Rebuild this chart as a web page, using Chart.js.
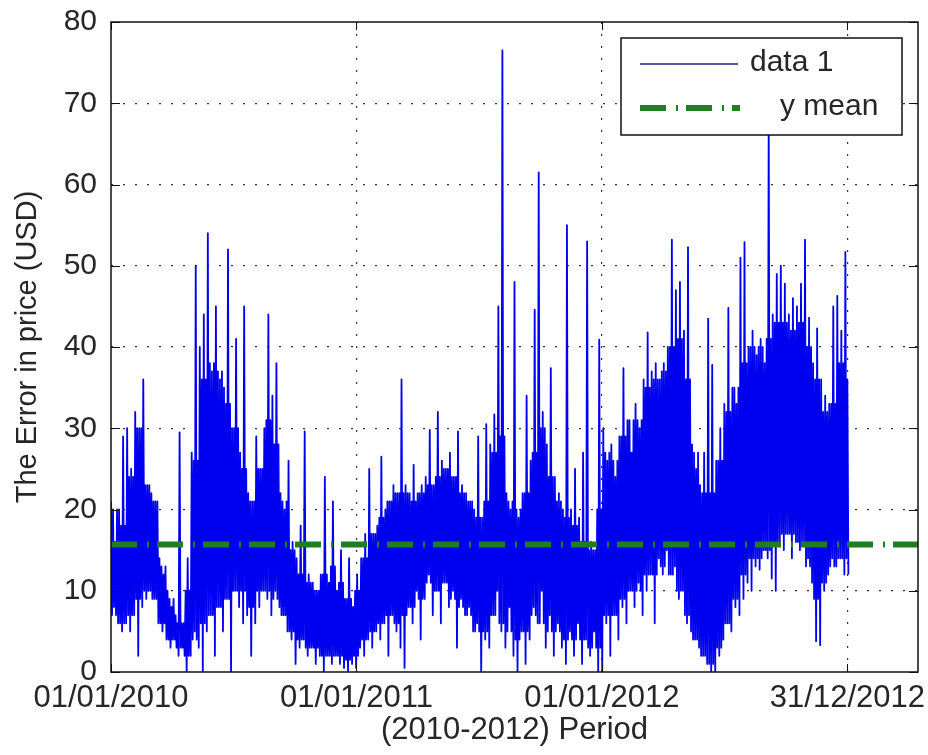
<!DOCTYPE html>
<html>
<head>
<meta charset="utf-8">
<title>Error in price 2010-2012</title>
<script src="https://cdn.jsdelivr.net/npm/chart.js@4.4.0/dist/chart.umd.min.js"></script>
<style>
    html, body { margin: 0; padding: 0; background: #ffffff; }
    #wrap { width: 928px; height: 755px; position: relative; }
</style>
</head>
<body>
<div id="wrap"><canvas id="errorChart"></canvas></div>
<script>
// x axis: days counted from 01/01/2010
const tickDays = [0, 365, 730, 1095];
const tickLabels = ['01/01/2010', '01/01/2011', '01/01/2012', '31/12/2012'];
const yTicks = [0, 10, 20, 30, 40, 50, 60, 70, 80];

// error values: peak and dip of every 6-day block
const blockHigh = [
    21, 16, 20, 29, 30, 25, 32, 30, 36, 23,
    22, 21, 14, 12, 10, 8, 7, 29.5, 6, 14,
    27, 50, 40, 44, 54, 37, 45, 36, 35, 52,
    30, 41, 27, 45, 22, 21, 29, 25, 30, 44,
    34, 38, 22, 20, 26, 16, 14, 18, 29.6, 12,
    11, 10, 12, 24, 11, 21, 10, 15, 9, 14,
    8, 12, 14, 17, 25, 17, 18, 26.5, 20, 21,
    23, 22, 36, 23, 22, 25.5, 22, 23, 24, 29.8,
    23, 32, 26, 25, 27, 24, 29.6, 23, 22, 21,
    20, 29, 19, 30.5, 28, 31.7, 45, 76.5, 22, 20,
    48, 19, 22, 34, 26, 44.6, 61.5, 32, 28, 37.4,
    24, 22, 20, 55, 20, 25, 19, 27, 53, 16,
    15, 40.9, 30, 26, 28, 24, 29, 37.4, 31, 27,
    33, 30, 36, 41.8, 37, 38, 36, 38, 40, 53.2,
    47, 48, 42, 52.3, 28, 25, 23, 27, 43.5, 37.8,
    26, 30, 33, 44.8, 35, 33, 51, 52.9, 40, 42,
    39, 41, 38, 68, 44, 49, 50, 47.8, 44, 46,
    45, 47.8, 53.2, 43.6, 38, 42.3, 36, 34, 33, 45,
    46.3, 42, 51.7
];
const blockLow = [
    8, 6, 5, 6, 5, 7, 2, 8, 9, 10,
    9, 6, 5, 4, 3, 4, 2, 3, 0, 2,
    5, 3, 0, 5, 7, 2, 8, 5, 9, 0,
    10, 8, 6, 7, 2, 6, 8, 10, 9, 7,
    10, 8, 7, 5, 4, 1, 3, 4, 2, 3,
    1, 2, 0, 2, 1, 2, 1, 0.5, 0, 1,
    0.5, 3, 2, 4, 3, 5, 4, 6, 2, 7,
    5, 3, 0.5, 8, 6, 10, 4, 9, 12, 7,
    10, 6, 11, 8, 10, 3, 9, 7, 8, 5,
    6, 0, 4, 3, 7, 10, 5, 3, 8, 2,
    0, 5, 1, 4, 8, 6, 10, 3, 7, 2,
    6, 3, 1, 5, 2, 6, 1, 4, 2, 5,
    0, 0, 6, 2, 7, 4, 8, 6, 10, 8,
    11, 7, 10, 12, 6, 14, 12, 15, 12, 13,
    9, 10, 6, 5, 4, 3, 2, 1, 0, 0,
    2, 4, 6, 5, 8, 7, 9, 11, 10, 13,
    12.6, 15, 14, 11.5, 10, 16, 15, 17, 14, 16,
    15, 16, 14, 11, 3.8, 3.3, 10, 12, 14, 13,
    14, 12, 12
];
// the dense core of the band, one pair per 12 days (2 blocks)
const coreTop = [
    20, 18, 24, 30, 23, 21, 13, 9, 6, 10,
    26, 36, 38, 37, 33, 30, 25, 21, 25, 31,
    28, 21, 15, 12, 11, 10, 12, 13, 11, 9,
    10, 14, 17, 19, 21, 22, 22, 21, 22, 23,
    24, 25, 24, 22, 21, 19, 21, 27, 29, 21,
    20, 22, 27, 30, 24, 21, 19, 18, 16, 15,
    20, 27, 26, 29, 31, 31, 35, 36, 37, 40,
    41, 36, 27, 22, 22, 26, 32, 35, 38, 40,
    40, 41, 43, 43, 42, 43, 40, 36, 32, 33,
    38, 36
];
const coreBottom = [
    7, 6, 7, 9, 10, 9, 6, 4, 3, 2,
    4, 6, 7, 8, 9, 10, 10, 8, 10, 10,
    9, 7, 5, 4, 3, 3, 2, 2, 2, 1.5,
    2, 4, 5, 6, 7, 6, 7, 8, 9, 11,
    10, 11, 9, 8, 7, 5, 5, 7, 6, 5,
    4, 5, 7, 6, 5, 5, 4, 4, 4, 3,
    3, 7, 7, 9, 10, 10, 12, 12, 13, 12,
    10, 7, 4, 2, 1, 3, 6, 9, 12, 14,
    14, 15, 16, 17, 17, 16, 13, 9, 11, 13,
    14, 14
];
const blockDays = 6;
const blocksPerCore = 2;

// mean line
const yMean = 15.7;
const meanSpan = [0, 1200];

const legendLabels = ['data 1', 'y mean'];

const BLUE = '#0000f0';
const GREEN = '#1d7f22';
const TEXT = '#262626';
const FONT = "'Liberation Sans', Arial, sans-serif";
const meanDash = [26, 10, 2, 8];

Chart.defaults.font.family = FONT;
Chart.defaults.font.size = 30;
Chart.defaults.color = TEXT;

// points of the error line: peak, core low, core high, dip in every block
function buildErrorPoints() {
    const pts = [];
    const q = blockDays / 4;
    blockHigh.forEach((h, k) => {
        const j = Math.floor(k / blocksPerCore);
        const d = k * blockDays;
        pts.push({ x: d, y: h });
        pts.push({ x: d + q, y: coreBottom[j] });
        pts.push({ x: d + 2 * q, y: coreTop[j] });
        pts.push({ x: d + 3 * q, y: blockLow[k] });
    });
    return pts;
}

// box round the plot, inward ticks and the legend
const matlabFrame = {
    id: 'matlabFrame',
    afterDatasetsDraw(chart) {
        const { ctx, chartArea: a, scales } = chart;
        ctx.save();

        // tick marks pointing inside
        ctx.strokeStyle = '#111';
        ctx.lineWidth = 1;
        ctx.beginPath();
        tickDays.forEach(d => {
            const px = Math.round(scales.x.getPixelForValue(d)) + 0.5;
            ctx.moveTo(px, a.bottom); ctx.lineTo(px, a.bottom - 8);
            ctx.moveTo(px, a.top); ctx.lineTo(px, a.top + 8);
        });
        yTicks.forEach(v => {
            const py = Math.round(scales.y.getPixelForValue(v)) + 0.5;
            ctx.moveTo(a.left, py); ctx.lineTo(a.left + 9, py);
            ctx.moveTo(a.right, py); ctx.lineTo(a.right - 9, py);
        });
        ctx.stroke();

        // plot box
        ctx.lineWidth = 1.5;
        ctx.strokeRect(a.left, a.top, a.right - a.left, a.bottom - a.top);

        // legend box
        const bx = a.right - 297, by = a.top + 16, bw = 281, bh = 97;
        ctx.fillStyle = '#fff';
        ctx.fillRect(bx, by, bw, bh);
        ctx.lineWidth = 1.5;
        ctx.strokeStyle = '#111';
        ctx.strokeRect(bx, by, bw, bh);

        // data 1 sample
        ctx.beginPath();
        ctx.strokeStyle = '#1c1c8a';
        ctx.lineWidth = 1.5;
        ctx.moveTo(bx + 19, by + 26); ctx.lineTo(bx + 117, by + 26);
        ctx.stroke();

        // y mean sample
        ctx.beginPath();
        ctx.strokeStyle = GREEN;
        ctx.lineWidth = 6;
        ctx.setLineDash(meanDash);
        ctx.moveTo(bx + 19, by + 70); ctx.lineTo(bx + 119, by + 70);
        ctx.stroke();
        ctx.setLineDash([]);

        ctx.fillStyle = TEXT;
        ctx.font = '30px ' + FONT;
        ctx.textBaseline = 'middle';
        ctx.textAlign = 'left';
        ctx.fillText(legendLabels[0], bx + 129, by + 25);
        ctx.fillText(legendLabels[1], bx + 159, by + 69);

        ctx.restore();
    }
};

function hideEdge(edges) {
    return ctx => edges.includes(ctx.tick.value) ? 'rgba(0,0,0,0)' : '#333';
}

// Chart banana
function initChart() {
    const canvas = document.getElementById('errorChart');
    new Chart(canvas, {
        type: 'line',
        data: {
            datasets: [{
                label: legendLabels[0],
                data: buildErrorPoints(),
                borderColor: BLUE,
                borderWidth: 1.8,
                borderJoinStyle: 'round',
                pointRadius: 0,
                tension: 0,
                order: 2
            }, {
                label: legendLabels[1],
                data: meanSpan.map(d => ({ x: d, y: yMean })),
                borderColor: GREEN,
                borderWidth: 6,
                borderDash: meanDash,
                borderCapStyle: 'butt',
                pointRadius: 0,
                order: 1
            }]
        },
        options: {
            responsive: true,
            maintainAspectRatio: false,
            animation: false,
            layout: { padding: { top: 22, right: 10, bottom: 0, left: 0 } },
            plugins: {
                legend: { display: false },
                tooltip: { enabled: false }
            },
            scales: {
                x: {
                    type: 'linear',
                    min: meanSpan[0],
                    max: meanSpan[1],
                    afterBuildTicks: s => { s.ticks = tickDays.map(v => ({ value: v })); },
                    afterFit: s => { s.height = 83; s.paddingLeft = 0; s.paddingRight = 0; },
                    ticks: {
                        autoSkip: false,
                        maxRotation: 0,
                        padding: 8,
                        font: { size: 31 },
                        callback: v => tickLabels[tickDays.indexOf(v)]
                    },
                    grid: { color: hideEdge([0]), lineWidth: 1.2, drawTicks: false },
                    border: { display: false, dash: [2, 10] },
                    title: {
                        display: true,
                        text: '(2010-2012) Period',
                        font: { size: 31 },
                        padding: { top: 0, bottom: 6 }
                    }
                },
                y: {
                    min: 0,
                    max: 80,
                    afterBuildTicks: s => { s.ticks = yTicks.map(v => ({ value: v })); },
                    afterFit: s => { s.width = 111; s.paddingTop = 0; s.paddingBottom = 0; },
                    ticks: { padding: 14 },
                    grid: { color: hideEdge([0, 80]), lineWidth: 1.2, drawTicks: false },
                    border: { display: false, dash: [2, 10] },
                    title: {
                        display: true,
                        text: 'The Error in price (USD)',
                        font: { size: 29 },
                        padding: { top: 11, bottom: 0 }
                    }
                }
            }
        },
        plugins: [matlabFrame]
    });
}

document.addEventListener('DOMContentLoaded', initChart);
</script>
</body>
</html>
